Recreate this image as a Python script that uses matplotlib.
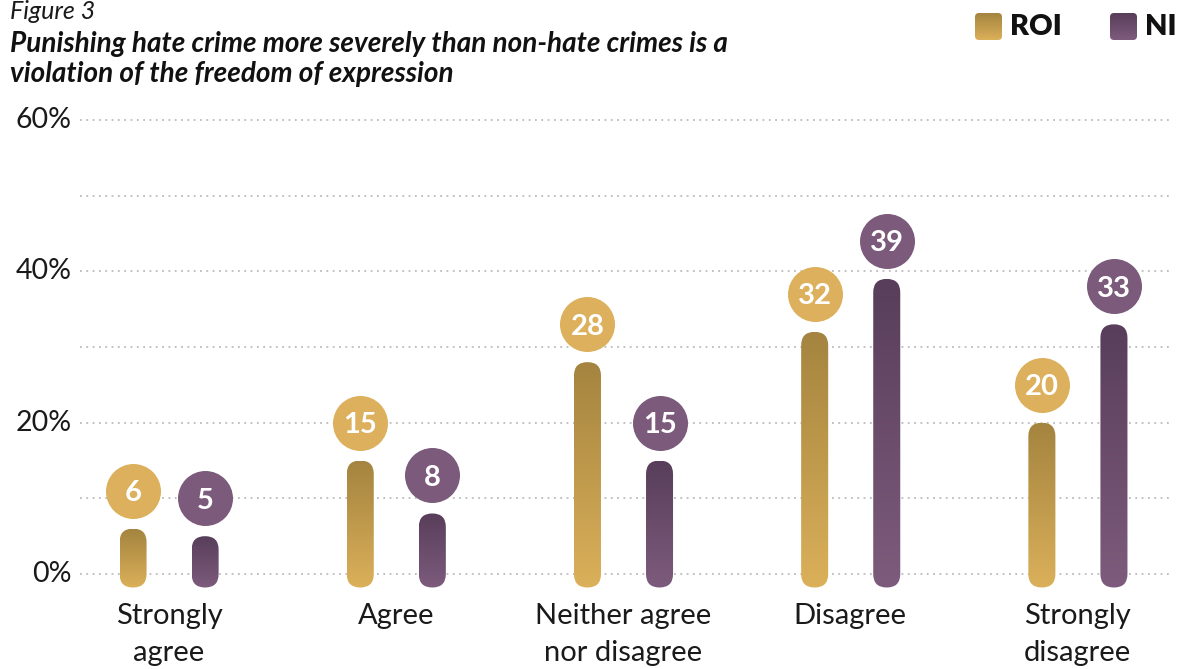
import numpy as np
import matplotlib
matplotlib.use("Agg")
import matplotlib.pyplot as plt
from matplotlib.patches import FancyBboxPatch
from matplotlib import transforms
from matplotlib.colors import LinearSegmentedColormap

categories = ["Strongly\nagree", "Agree", "Neither agree\nnor disagree", "Disagree", "Strongly\ndisagree"]
roi_values = [6, 15, 28, 32, 20]
ni_values = [5, 8, 15, 39, 33]
y_ticks = [0, 20, 40, 60]
y_tick_labels = ["0%", "20%", "40%", "60%"]

ROI_TOP, ROI_BOTTOM, ROI_BADGE = "#a4843f", "#dbb05a", "#dcb05c"
NI_TOP, NI_BOTTOM, NI_BADGE = "#583e5a", "#7d5b7c", "#7b5a7b"

W, H, DPI = 1181, 669, 100
fig = plt.figure(figsize=(W / DPI, H / DPI), dpi=DPI)

px_per_unit = 7.567
y_lo, y_hi = -3.0, 61.0
top_px = 120 - (y_hi - 60) * px_per_unit
bot_px = 574 + (0 - y_lo) * px_per_unit
ax_left, ax_right = 80, 1172
ax = fig.add_axes([ax_left / W, 1 - bot_px / H, (ax_right - ax_left) / W, (bot_px - top_px) / H])

group_gap = 227.0
x_lo = -89 / group_gap
x_hi = 4 + 94 / group_gap
ax.set_xlim(x_lo, x_hi)
ax.set_ylim(y_lo, y_hi)
ax.axis("off")

# dotted gridlines every 10%
for g in range(0, 61, 10):
    ax.axhline(g, color="#bbbbbb", lw=1.3, ls=(0, (1, 2.5)), zorder=0)

tick_font = dict(family="Lato", fontweight="normal", fontsize=20.5, color="#1a1a1a")
for t, lab in zip(y_ticks, y_tick_labels):
    ax.text(x_lo - 8 / group_gap, t, lab, ha="right", va="center", **tick_font)

bar_w_px = 27.0
rx = bar_w_px / 2 / group_gap          # radius in x data units
ry = bar_w_px / 2 / px_per_unit         # radius in y data units
offset = 36 / group_gap


def draw_bar(xc, val, c_top, c_bot):
    x0 = xc - rx
    y0 = -ry
    patch = FancyBboxPatch((xc, 0), 0, val - ry,
                           boxstyle=f"round,pad={rx},rounding_size={rx}",
                           mutation_aspect=ry / rx,
                           fc="none", ec="none", transform=ax.transData)
    ax.add_patch(patch)
    cmap = LinearSegmentedColormap.from_list("g", [c_bot, c_top])
    grad = np.linspace(0, 1, 256).reshape(-1, 1)
    im = ax.imshow(grad, cmap=cmap, origin="lower", aspect="auto",
                   extent=(x0, x0 + 2 * rx, y0, val), zorder=2, interpolation="bilinear")
    im.set_clip_path(patch)


badge_shift = transforms.offset_copy(ax.transData, fig=fig, x=0, y=38, units="dots")
badge_size = (55 * 72 / DPI) ** 2

for i, (rv, nv) in enumerate(zip(roi_values, ni_values)):
    for xc, v, ct, cb, badge in ((i - offset, rv, ROI_TOP, ROI_BOTTOM, ROI_BADGE),
                                 (i + offset, nv, NI_TOP, NI_BOTTOM, NI_BADGE)):
        draw_bar(xc, v, ct, cb)
        ax.scatter([xc], [v], s=badge_size, color=badge, transform=badge_shift,
                   zorder=4, linewidths=0, clip_on=False)
        ax.text(xc, v, f"{v}", transform=badge_shift, ha="center", va="center_baseline",
                color="white", fontsize=21, fontweight="bold", family="Lato",
                zorder=5, clip_on=False)

# restore limits after imshow
ax.set_xlim(x_lo, x_hi)
ax.set_ylim(y_lo, y_hi)

for i, cat in enumerate(categories):
    x_fig = (ax_left + (i - x_lo) * group_gap) / W
    fig.text(x_fig, 1 - 603 / H, cat, ha="center", va="top", linespacing=1.5,
             family="Lato", fontweight="normal", fontsize=21, color="#1a1a1a")

# heading
fig.text(10 / W, 1 - 19 / H, "Figure 3", ha="left", va="baseline", family="Lato",
         style="italic", fontweight="normal", fontsize=18, color="#1a1a1a")
fig.text(10 / W, 1 - 52 / H, "Punishing hate crime more severely than non-hate crimes is a",
         ha="left", va="baseline", family="Lato", style="italic", fontweight="bold",
         fontsize=20.1, color="#111111")
fig.text(10 / W, 1 - 82 / H, "violation of the freedom of expression",
         ha="left", va="baseline", family="Lato", style="italic", fontweight="bold",
         fontsize=20.1, color="#111111")

# legend
leg_ax = fig.add_axes([0, 0, 1, 1], zorder=-1)
leg_ax.set_xlim(0, W)
leg_ax.set_ylim(H, 0)
leg_ax.axis("off")
for x0, ct, cb, lab in ((975, ROI_TOP, ROI_BOTTOM, "ROI"), (1110, NI_TOP, NI_BOTTOM, "NI")):
    sq = FancyBboxPatch((x0, 13), 27, 27, boxstyle="round,pad=0,rounding_size=4",
                        fc="none", ec="none")
    leg_ax.add_patch(sq)
    cmap = LinearSegmentedColormap.from_list("g", [ct, cb])
    im = leg_ax.imshow(np.linspace(0, 1, 64).reshape(-1, 1), cmap=cmap, aspect="auto",
                       extent=(x0, x0 + 27, 40, 13), origin="upper")
    im.set_clip_path(sq)
    leg_ax.text(x0 + 35, 27, lab, ha="left", va="center", family="Lato",
                fontweight="heavy", fontsize=21, color="#111111")
leg_ax.set_xlim(0, W)
leg_ax.set_ylim(H, 0)

fig.savefig("out.png", dpi=DPI)
